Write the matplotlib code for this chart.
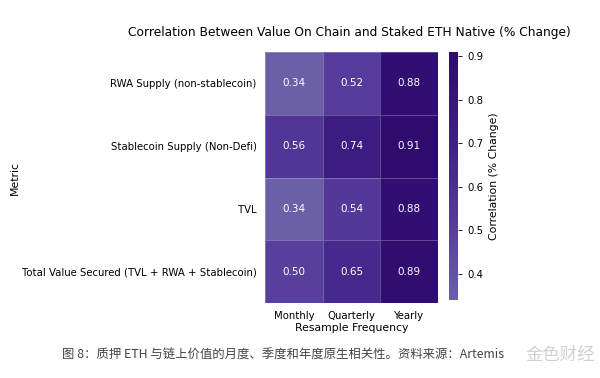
import numpy as np
import matplotlib
matplotlib.use("Agg")
import matplotlib.pyplot as plt
from matplotlib.colors import LinearSegmentedColormap

metrics = ["RWA Supply (non-stablecoin)", "Stablecoin Supply (Non-Defi)", "TVL",
           "Total Value Secured (TVL + RWA + Stablecoin)"]
frequencies = ["Monthly", "Quarterly", "Yearly"]
monthly = [0.34, 0.56, 0.34, 0.50]
quarterly = [0.52, 0.74, 0.54, 0.65]
yearly = [0.88, 0.91, 0.88, 0.89]
cbar_ticks = [0.4, 0.5, 0.6, 0.7, 0.8, 0.9]

data = np.array([monthly, quarterly, yearly]).T

plt.rcParams['font.family'] = ['DejaVu Sans']
cmap = LinearSegmentedColormap.from_list(
    "pur", ["#6b5fa8", "#54399a", "#3f1e84", "#2e0b6d"])

fig = plt.figure(figsize=(6, 3.78), dpi=100)
ax = fig.add_axes([0.4417, 0.1984, 0.2883, 0.664])
cax = fig.add_axes([0.7483, 0.2063, 0.015, 0.656])

im = ax.pcolormesh(data, cmap=cmap, vmin=data.min(), vmax=data.max(),
                   edgecolors=(1, 1, 1, 0.25), linewidth=0.5)
ax.set_xlim(0, 3)
ax.set_ylim(4, 0)
for i in range(data.shape[0]):
    for j in range(data.shape[1]):
        ax.text(j + 0.5, i + 0.5, f"{data[i, j]:.2f}", ha="center", va="center",
                color="white", fontsize=7.5)
ax.set_xticks(np.arange(3) + 0.5)
ax.set_xticklabels(frequencies, fontsize=7.3)
ax.set_yticks(np.arange(4) + 0.5)
ax.set_yticklabels(metrics, fontsize=7.3)
ax.tick_params(length=0, pad=6)
for s in ax.spines.values():
    s.set_visible(False)
ax.set_xlabel("Resample Frequency", fontsize=7.8, labelpad=1)
ax.set_ylabel("Metric", fontsize=7.8)
ax.yaxis.set_label_coords(-1.42, 0.5)

cb = fig.colorbar(im, cax=cax)
cb.set_ticks(cbar_ticks)
cb.ax.tick_params(labelsize=7.3, length=3, width=0.6)
cb.outline.set_visible(False)
cb.set_label("Correlation (% Change)", fontsize=7.8)

fig.text(0.583, 0.913, "Correlation Between Value On Chain and Staked ETH Native (% Change)",
         ha="center", va="center", fontsize=8.8)

fig.text(0.103, 0.061, "图 8：质押 ETH 与链上价值的月度、季度和年度原生相关性。资料来源：Artemis",
         ha="left", va="center", fontsize=8.9, color="#444444",
         family=['Noto Sans CJK SC', 'DejaVu Sans'])
fig.text(0.992, 0.061, "金色财经", ha="right", va="center", fontsize=12.5, color="#d0d0d0",
         family=['Noto Sans CJK SC', 'DejaVu Sans'])

fig.savefig("out.png", dpi=100)
